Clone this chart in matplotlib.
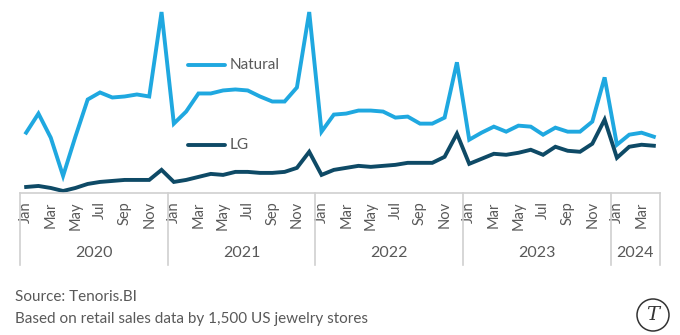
#!/usr/bin/env python3
"""
Natural vs lab-grown (LG) diamond jewelry sales, monthly index
"""

import matplotlib
matplotlib.use("Agg")
import matplotlib.pyplot as plt
from matplotlib.patches import Ellipse
import matplotlib.transforms as mtransforms

plt.rcParams['font.family'] = ['Lato', 'DejaVu Sans']

# Data (arbitrary index units)
years = ['2020', '2021', '2022', '2023', '2024']
months_per_year = [12, 12, 12, 12, 4]
month_names = ['Jan', 'Feb', 'Mar', 'Apr', 'May', 'Jun',
               'Jul', 'Aug', 'Sep', 'Oct', 'Nov', 'Dec']

natural = [
    62, 81, 57, 19, 58, 95, 102, 97, 98, 100, 98, 182,     # 2020
    71, 83, 101, 101, 104, 105, 104, 98, 93, 93, 107, 182,  # 2021
    63, 80, 81, 84, 84, 83, 77, 78, 71, 71, 77, 132,        # 2022
    55, 62, 68, 63, 69, 68, 60, 67, 63, 63, 73, 117,        # 2023
    50, 60, 62, 58,                                         # 2024
]
lg = [
    8, 9, 7, 4, 7, 11, 13, 14, 15, 15, 15, 25,              # 2020
    13, 15, 18, 21, 20, 23, 23, 22, 22, 23, 27, 43,         # 2021
    20, 25, 27, 29, 28, 29, 30, 32, 32, 32, 38, 61,         # 2022
    31, 36, 41, 40, 42, 45, 40, 48, 44, 43, 51, 75,         # 2023
    37, 48, 50, 49,                                         # 2024
]

natural_color = '#1FA8E0'
lg_color = '#0E4A66'
text_color = '#595959'
line_grey = '#D0D0D0'

# month labels for every month, shown every other month
labels = []
for n in months_per_year:
    labels += month_names[:n]
x = list(range(len(labels)))

fig = plt.figure(figsize=(6.8, 3.35), dpi=100)
ax = fig.add_axes([20 / 680, 142 / 335, 640 / 680, 188 / 335])

ax.plot(x, natural, color=natural_color, linewidth=2.8, solid_joinstyle='miter')
ax.plot(x, lg, color=lg_color, linewidth=2.8, solid_joinstyle='miter')

ax.set_xlim(-0.5, len(x) - 0.5)
ax.set_ylim(2, 189)
ax.set_yticks([])
for side in ['top', 'left', 'right']:
    ax.spines[side].set_visible(False)
ax.spines['bottom'].set_color(line_grey)
ax.spines['bottom'].set_linewidth(1.2)

tick_pos = x[::2]
ax.set_xticks(tick_pos)
ax.set_xticklabels(labels[::2], rotation=90, fontsize=10.5, color=text_color)
ax.tick_params(axis='x', length=0, pad=6)

# year dividers and year labels
trans = mtransforms.blended_transform_factory(ax.transData, ax.transAxes)
edge = -0.5
for yr, n in zip(years, months_per_year):
    ax.plot([edge, edge], [0, -0.385], transform=trans, color=line_grey,
            linewidth=1.2, clip_on=False)
    ax.text(edge + n / 2, -0.32, yr, transform=trans, ha='center', va='center',
            fontsize=11.5, color=text_color)
    edge += n
ax.plot([edge, edge], [0, -0.385], transform=trans, color=line_grey,
        linewidth=1.2, clip_on=False)

# inline legend
ax.plot([0.2625, 0.32], [0.68, 0.68], transform=ax.transAxes,
        color=natural_color, linewidth=2.8, solid_capstyle='round')
ax.text(0.327, 0.68, 'Natural', transform=ax.transAxes, va='center',
        fontsize=11, color=text_color)
ax.plot([0.2625, 0.32], [0.255, 0.255], transform=ax.transAxes,
        color=lg_color, linewidth=2.8, solid_capstyle='round')
ax.text(0.327, 0.255, 'LG', transform=ax.transAxes, va='center',
        fontsize=11, color=text_color)

# footer
fig.text(15 / 680, 0.113, 'Source: Tenoris.BI', fontsize=11,
         color=text_color, va='center')
fig.text(15 / 680, 0.048, 'Based on retail sales data by 1,500 US jewelry stores',
         fontsize=11, color=text_color, va='center')

# logo
fig.patches.append(Ellipse((653 / 680, 20 / 335), 32 / 680, 32 / 335,
                           transform=fig.transFigure, fill=False,
                           edgecolor='#333333', linewidth=1.1))
fig.text(653 / 680, 20 / 335, 'T', fontsize=14, family='DejaVu Serif',
         style='italic', color='#333333', ha='center', va='center')

plt.savefig('out.png', dpi=100)
plt.close()
